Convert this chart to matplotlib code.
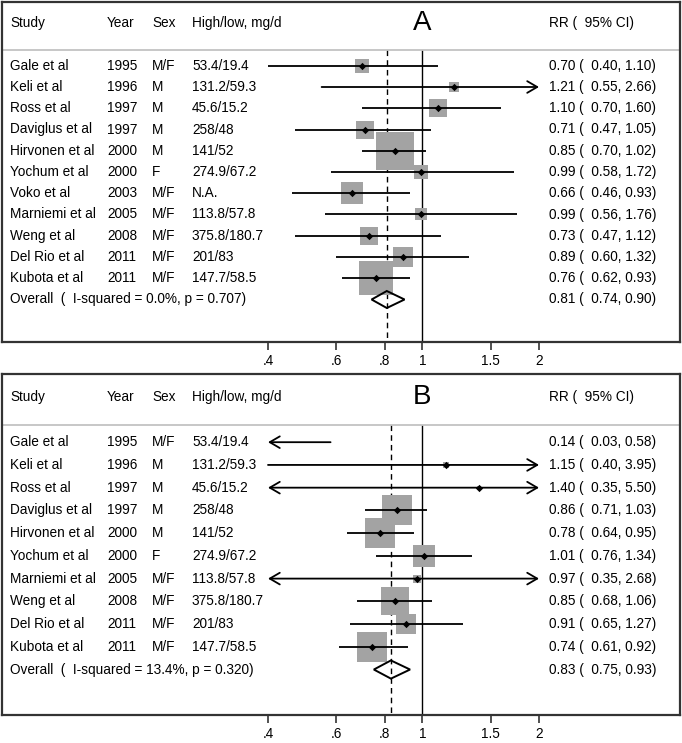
import numpy as np
import matplotlib
matplotlib.use("Agg")
import matplotlib.pyplot as plt

plt.rcParams.update({
    "font.family": ["Liberation Sans", "DejaVu Sans"],
    "font.size": 9.8,
})

# Panel A data
studies_a = ['Gale et al', 'Keli et al', 'Ross et al', 'Daviglus et al', 'Hirvonen et al',
             'Yochum et al', 'Voko et al', 'Marniemi et al', 'Weng et al', 'Del Rio et al',
             'Kubota et al']
years_a = [1995, 1996, 1997, 1997, 2000, 2000, 2003, 2005, 2008, 2011, 2011]
sex_a = ['M/F', 'M', 'M', 'M', 'M', 'F', 'M/F', 'M/F', 'M/F', 'M/F', 'M/F']
dose_a = ['53.4/19.4', '131.2/59.3', '45.6/15.2', '258/48', '141/52', '274.9/67.2',
          'N.A.', '113.8/57.8', '375.8/180.7', '201/83', '147.7/58.5']
rr_a = [0.70, 1.21, 1.10, 0.71, 0.85, 0.99, 0.66, 0.99, 0.73, 0.89, 0.76]
lo_a = [0.40, 0.55, 0.70, 0.47, 0.70, 0.58, 0.46, 0.56, 0.47, 0.60, 0.62]
hi_a = [1.10, 2.66, 1.60, 1.05, 1.02, 1.72, 0.93, 1.76, 1.12, 1.32, 0.93]
wt_a = [4.4, 2.0, 6.4, 6.4, 28.3, 3.8, 8.7, 3.3, 5.7, 7.1, 24.0]
overall_a = [0.81, 0.74, 0.90]
het_a = [0.0, 0.707]

# Panel B data
studies_b = ['Gale et al', 'Keli et al', 'Ross et al', 'Daviglus et al', 'Hirvonen et al',
             'Yochum et al', 'Marniemi et al', 'Weng et al', 'Del Rio et al', 'Kubota et al']
years_b = [1995, 1996, 1997, 1997, 2000, 2000, 2005, 2008, 2011, 2011]
sex_b = ['M/F', 'M', 'M', 'M', 'M', 'F', 'M/F', 'M/F', 'M/F', 'M/F']
dose_b = ['53.4/19.4', '131.2/59.3', '45.6/15.2', '258/48', '141/52', '274.9/67.2',
          '113.8/57.8', '375.8/180.7', '201/83', '147.7/58.5']
rr_b = [0.14, 1.15, 1.40, 0.86, 0.78, 1.01, 0.97, 0.85, 0.91, 0.74]
lo_b = [0.03, 0.40, 0.35, 0.71, 0.64, 0.76, 0.35, 0.68, 0.65, 0.61]
hi_b = [0.58, 3.95, 5.50, 1.03, 0.95, 1.34, 2.68, 1.06, 1.27, 0.92]
wt_b = [0.2, 0.8, 0.35, 19.9, 19.9, 11.7, 1.1, 17.4, 8.9, 19.9]
overall_b = [0.83, 0.75, 0.93]
het_b = [13.4, 0.320]

ticks = [0.4, 0.6, 0.8, 1, 1.5, 2]
tick_labels = ['.4', '.6', '.8', '1', '1.5', '2']

W, H = 682, 743
fig = plt.figure(figsize=(W / 100, H / 100), dpi=100)

# x scale: 0.4 -> px 268, 2 -> px 539, axes box from px 2 to 680
xmin_d, xmax_d = 0.4, 2.0
px_lo, px_hi = 268, 539
k = (px_hi - px_lo) / np.log(xmax_d / xmin_d)
box_l, box_r = 2, 680
xl = xmin_d * np.exp(-(px_lo - box_l) / k)
xr = xmax_d * np.exp((box_r - px_hi) / k)


def fx(p):
    return (p - box_l) / (box_r - box_l)


def panel(top, bottom, letter, studies, years, sexes, doses, rr, lo, hi, wt,
          overall, het, box_scale):
    ax = fig.add_axes([box_l / W, 1 - bottom / H, (box_r - box_l) / W, (bottom - top) / H])
    n = len(studies)
    ybot = n + 3
    ax.set_xscale('log')
    ax.set_xlim(xl, xr)
    ax.set_ylim(ybot, -2)
    ax.minorticks_off()
    ax.set_xticks(ticks)
    ax.set_xticklabels(tick_labels)
    ax.tick_params(axis='x', direction='out', length=6, width=1.1, pad=3,
                   color='#222222', labelsize=9.8)
    ax.tick_params(axis='y', left=False, labelleft=False)
    for s in ax.spines.values():
        s.set_color('#333333')
        s.set_linewidth(1.6)

    tr = ax.get_yaxis_transform()
    # header
    for txt, p in [('Study', 10), ('Year', 107), ('Sex', 152), ('High/low, mg/d', 192),
                   ('RR (  95% CI)', 549)]:
        ax.text(fx(p), -1, txt, transform=tr, va='center', ha='left')
    ax.text(1, -1, letter, fontsize=20, ha='center', va='center')
    ax.axhline(0.25, color='#bdbdbd', lw=1.2)

    ax.vlines(1, 0.25, ybot, color='black', lw=1.0, zorder=1)
    ax.vlines(overall[0], 0.25, ybot, color='black', lw=1.0,
              linestyles=(0, (4, 3)), zorder=1)

    ys = np.arange(1, n + 1)
    for i in range(n):
        y = ys[i]
        ax.text(fx(10), y, studies[i], transform=tr, va='center')
        ax.text(fx(107), y, str(years[i]), transform=tr, va='center')
        ax.text(fx(152), y, sexes[i], transform=tr, va='center')
        ax.text(fx(192), y, doses[i], transform=tr, va='center')
        ax.text(fx(549), y, '%.2f (  %.2f, %.2f)' % (rr[i], lo[i], hi[i]),
                transform=tr, va='center')

        a = max(lo[i], xmin_d)
        b = min(hi[i], xmax_d)
        if rr[i] >= xmin_d and rr[i] <= xmax_d:
            side = box_scale * np.sqrt(wt[i]) * 0.72
            ax.scatter([rr[i]], [y], s=side ** 2, marker='s', color='#a3a3a3',
                       linewidths=0, zorder=2)
            ax.scatter([rr[i]], [y], s=14, marker='D', color='black',
                       linewidths=0, zorder=4)
        left_arrow = lo[i] < xmin_d
        right_arrow = hi[i] > xmax_d
        if left_arrow or right_arrow:
            style = ('<->' if left_arrow and right_arrow
                     else ('<-' if left_arrow else '->')) + ',head_length=0.6,head_width=0.35'
            ax.annotate('', xy=(b, y), xytext=(a, y),
                        arrowprops=dict(arrowstyle=style, lw=1.3, color='black',
                                        shrinkA=0, shrinkB=0, mutation_scale=12),
                        zorder=3)
        else:
            ax.plot([a, b], [y, y], color='black', lw=1.3, zorder=3,
                    solid_capstyle='butt')

    yo = n + 1
    ax.text(fx(10), yo, 'Overall  (  I-squared = %.1f%%, p = %.3f)' % (het[0], het[1]),
            transform=tr, va='center')
    ax.text(fx(549), yo, '%.2f (  %.2f, %.2f)' % tuple(overall), transform=tr, va='center')
    ax.fill([overall[1], overall[0], overall[2], overall[0]],
            [yo, yo - 0.4, yo, yo + 0.4], fill=False, edgecolor='black', lw=1.4, zorder=5)
    return ax


panel(2, 342, 'A', studies_a, years_a, sex_a, dose_a, rr_a, lo_a, hi_a, wt_a,
      overall_a, het_a, 7.14)
panel(374, 715, 'B', studies_b, years_b, sex_b, dose_b, rr_b, lo_b, hi_b, wt_b,
      overall_b, het_b, 6.72)

fig.savefig('out.png', dpi=100)
